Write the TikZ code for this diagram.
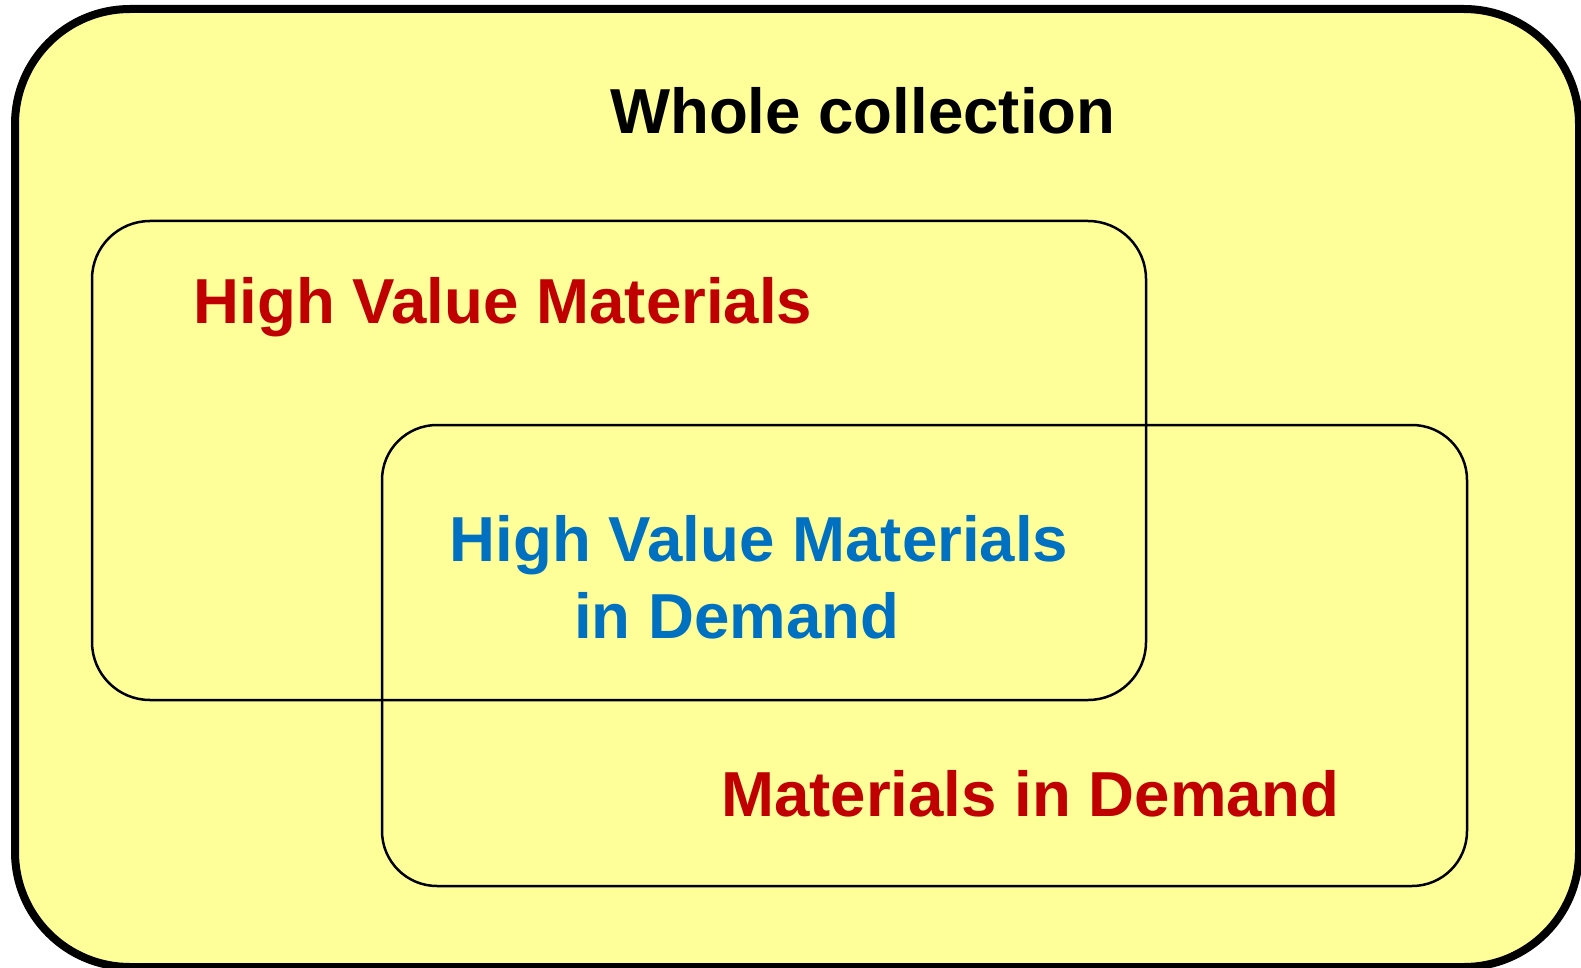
\documentclass[tikz,border=0pt]{standalone}
\usepackage{fontspec}
\setmainfont{Liberation Sans}
\definecolor{bgyellow}{RGB}{255,255,153}
\definecolor{setred}{RGB}{192,0,0}
\definecolor{setblue}{RGB}{0,112,192}
\tikzset{
  outerbox/.style={draw=black,line width=8pt,fill=bgyellow},
  setbox/.style={draw=black,line width=2.5pt},
  label/.style={inner sep=0pt,anchor=base west,font=\fontsize{63.6}{77}\selectfont\bfseries},
}
\begin{document}
\begin{tikzpicture}[x=1pt,y=-1pt]
\useasboundingbox (0,0) rectangle (1581,968);
\draw[outerbox,rounded corners=115pt] (15,9) rectangle (1579,967);
\draw[setbox,rounded corners=58pt] (92,221) rectangle (1146,700);
\draw[setbox,rounded corners=55pt] (382,425) rectangle (1467,886);
\node[label,text=black] (whole) at (610,134) {Whole collection};
\node[label,text=setred] (hvm) at (193.5,323) {High Value Materials};
\node[label,text=setblue] (hvm1) at (449.5,561) {High Value Materials};
\node[label,text=setblue] (hvm2) at (574,638) {in Demand};
\node[label,text=setred] (mid) at (721,816) {Materials in Demand};
\end{tikzpicture}
\end{document}
